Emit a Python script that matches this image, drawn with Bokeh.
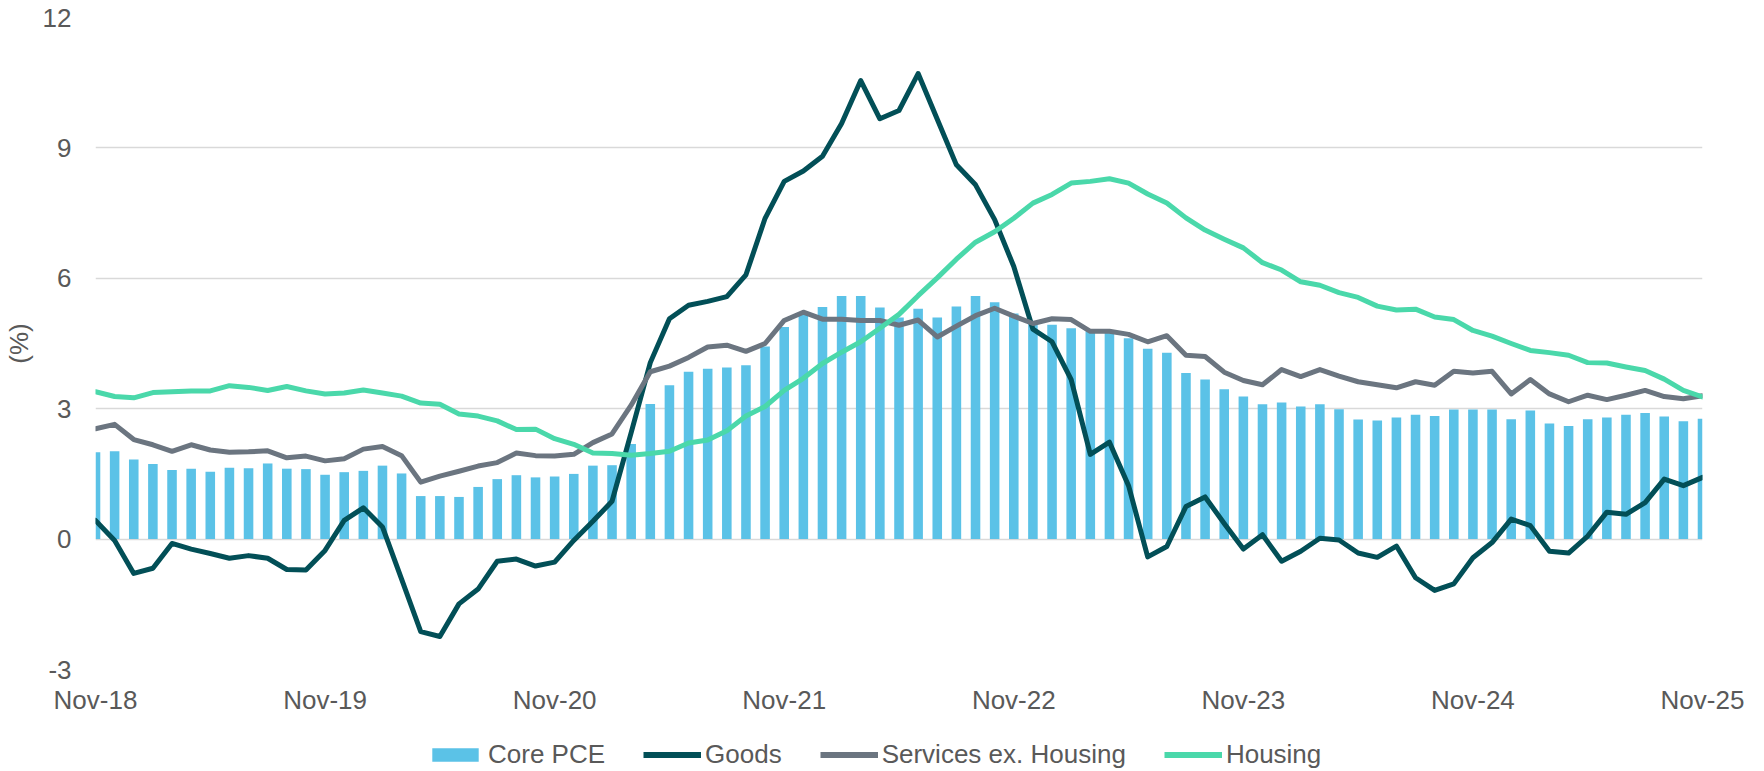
from bokeh.plotting import figure
from bokeh.models import (ColumnDataSource, Range1d, FixedTicker, Legend, LegendItem)
from bokeh.layouts import column
from bokeh.embed import file_html
from bokeh.resources import INLINE

# ---------------- data (monthly, Nov-18 .. Nov-25) ----------------
tick_labels = ["Nov-18", "Nov-19", "Nov-20", "Nov-21", "Nov-22", "Nov-23", "Nov-24", "Nov-25"]

core_pce = [2.00, 2.02, 1.83, 1.73, 1.59, 1.62, 1.55, 1.64, 1.63, 1.74, 1.62, 1.61,
            1.48, 1.54, 1.57, 1.69, 1.51, 0.99, 0.99, 0.97, 1.20, 1.38, 1.47, 1.42,
            1.44, 1.50, 1.69, 1.70, 2.19, 3.11, 3.54, 3.85, 3.92, 3.95, 4.00, 4.43,
            4.88, 5.16, 5.34, 5.59, 5.59, 5.33, 5.10, 5.30, 5.10, 5.35, 5.59, 5.45,
            5.19, 4.95, 4.93, 4.85, 4.78, 4.76, 4.62, 4.38, 4.29, 3.82, 3.67, 3.45,
            3.28, 3.10, 3.14, 3.05, 3.10, 2.99, 2.75, 2.73, 2.80, 2.86, 2.83, 2.98,
            2.98, 2.98, 2.76, 2.96, 2.66, 2.60, 2.76, 2.80, 2.86, 2.90, 2.82, 2.71,
            2.77]

goods = [0.43, -0.03, -0.79, -0.67, -0.10, -0.23, -0.33, -0.44, -0.38, -0.44, -0.70, -0.71,
         -0.26, 0.43, 0.72, 0.28, -0.92, -2.13, -2.24, -1.49, -1.15, -0.51, -0.46, -0.62,
         -0.53, -0.03, 0.41, 0.87, 2.45, 4.06, 5.07, 5.38, 5.47, 5.58, 6.08, 7.38,
         8.23, 8.47, 8.81, 9.56, 10.55, 9.67, 9.86, 10.71, 9.66, 8.61, 8.15, 7.35,
         6.27, 4.83, 4.54, 3.67, 1.95, 2.23, 1.23, -0.41, -0.17, 0.75, 0.97, 0.36,
         -0.23, 0.10, -0.51, -0.28, 0.02, -0.02, -0.32, -0.42, -0.16, -0.89, -1.18, -1.03,
         -0.43, -0.08, 0.46, 0.31, -0.28, -0.32, 0.07, 0.62, 0.57, 0.84, 1.38, 1.23,
         1.42]

services_ex_housing = [2.54, 2.64, 2.29, 2.17, 2.02, 2.17, 2.05, 2.00, 2.01, 2.03, 1.87, 1.91,
                       1.80, 1.85, 2.07, 2.13, 1.92, 1.31, 1.45, 1.56, 1.68, 1.76, 1.98, 1.92,
                       1.91, 1.95, 2.22, 2.42, 3.08, 3.85, 3.98, 4.18, 4.42, 4.46, 4.32, 4.50,
                       5.03, 5.22, 5.06, 5.06, 5.03, 5.03, 4.92, 5.04, 4.65, 4.90, 5.14, 5.31,
                       5.13, 4.96, 5.07, 5.05, 4.78, 4.78, 4.71, 4.54, 4.68, 4.23, 4.20, 3.84,
                       3.65, 3.55, 3.90, 3.74, 3.90, 3.75, 3.62, 3.55, 3.48, 3.62, 3.54, 3.86,
                       3.82, 3.86, 3.34, 3.67, 3.34, 3.16, 3.31, 3.21, 3.31, 3.42, 3.28, 3.23,
                       3.30]

housing = [3.39, 3.28, 3.25, 3.37, 3.39, 3.41, 3.41, 3.53, 3.49, 3.42, 3.51, 3.41,
           3.34, 3.36, 3.43, 3.36, 3.29, 3.13, 3.10, 2.88, 2.83, 2.72, 2.52, 2.53,
           2.31, 2.18, 1.98, 1.97, 1.93, 1.97, 2.02, 2.21, 2.28, 2.49, 2.83, 3.05,
           3.42, 3.70, 4.04, 4.30, 4.54, 4.85, 5.17, 5.60, 6.01, 6.44, 6.83, 7.07,
           7.38, 7.73, 7.93, 8.19, 8.23, 8.29, 8.19, 7.94, 7.73, 7.39, 7.11, 6.90,
           6.70, 6.36, 6.19, 5.92, 5.84, 5.67, 5.56, 5.36, 5.27, 5.29, 5.11, 5.05,
           4.80, 4.67, 4.50, 4.34, 4.29, 4.23, 4.06, 4.05, 3.96, 3.88, 3.68, 3.42,
           3.27]

y_ticks = [-3, 0, 3, 6, 9, 12]
series_names = ["Core PCE", "Goods", "Services ex. Housing", "Housing"]

# ---------------- styling ----------------
FONT = "Liberation Sans"
FS = "26px"
TXT = "#595959"
C_BAR = "#5BC2E7"
C_GOODS = "#024F57"
C_SERV = "#6B7580"
C_HOUS = "#4AD8AA"
LW = 5

n = len(core_pce)
months = list(range(n))
src = ColumnDataSource(dict(x=months, core=core_pce, goods=goods,
                            serv=services_ex_housing, hous=housing))

W = 1762
p = figure(width=W, height=719, output_backend="svg", toolbar_location=None,
           x_range=Range1d(0, n - 1), y_range=Range1d(-3, 12),
           min_border_left=95, min_border_right=60, min_border_top=17, min_border_bottom=50)
p.outline_line_color = None
p.background_fill_color = "white"
p.border_fill_color = "white"

p.vbar(x="x", top="core", bottom=0, width=0.5, source=src,
       fill_color=C_BAR, line_color=None)
p.line("x", "goods", source=src, line_color=C_GOODS, line_width=LW,
       line_join="round", line_cap="round")
p.line("x", "serv", source=src, line_color=C_SERV, line_width=LW,
       line_join="round", line_cap="round")
p.line("x", "hous", source=src, line_color=C_HOUS, line_width=LW,
       line_join="round", line_cap="round")

# axes
xa = p.xaxis[0]
xa.ticker = FixedTicker(ticks=[12 * k for k in range(len(tick_labels))])
xa.major_label_overrides = {12 * k: lab for k, lab in enumerate(tick_labels)}
ya = p.yaxis[0]
ya.ticker = FixedTicker(ticks=y_ticks)
ya.major_label_overrides = {t: str(t) for t in y_ticks}
ya.axis_label = "(%)"
for ax in (xa, ya):
    ax.axis_line_color = None
    ax.major_tick_line_color = None
    ax.minor_tick_line_color = None
    ax.major_tick_out = 0
    ax.major_tick_in = 0
    ax.major_label_text_font = FONT
    ax.major_label_text_font_size = FS
    ax.major_label_text_color = TXT
ya.major_label_standoff = 24
ya.axis_label_text_font = FONT
ya.axis_label_text_font_size = FS
ya.axis_label_text_font_style = "normal"
ya.axis_label_text_color = TXT
ya.axis_label_standoff = 6
xa.major_label_standoff = 15

p.xgrid.grid_line_color = None
p.ygrid.grid_line_color = "#D9D9D9"
p.ygrid.grid_line_width = 1.4

# ---------------- legend strip (separate figure below the chart) ----------------
lf = figure(width=W, height=51, output_backend="svg", toolbar_location=None,
            x_range=Range1d(0, 1), y_range=Range1d(0, 1),
            x_axis_location=None, y_axis_location=None,
            min_border_left=0, min_border_right=0, min_border_top=0, min_border_bottom=0)
lf.outline_line_color = None
lf.xgrid.grid_line_color = None
lf.ygrid.grid_line_color = None
lf.border_fill_color = "white"
lf.background_fill_color = "white"

# legend proxies: points placed outside the visible range
proxy = ColumnDataSource(dict(x=[-10, -9], y=[-10, -9]))
r_bar = lf.vbar(x="x", top="y", width=0.5, source=proxy, fill_color=C_BAR, line_color=None)
r_g = lf.line("x", "y", source=proxy, line_color=C_GOODS, line_width=LW + 1)
r_s = lf.line("x", "y", source=proxy, line_color=C_SERV, line_width=LW + 1)
r_h = lf.line("x", "y", source=proxy, line_color=C_HOUS, line_width=LW + 1)

legend = Legend(items=[LegendItem(label=nm, renderers=[r])
                       for nm, r in zip(series_names, [r_bar, r_g, r_s, r_h])],
                orientation="horizontal", location=(331, 0),
                glyph_width=58, glyph_height=17, label_standoff=4, spacing=38,
                padding=0, margin=0, border_line_color=None, background_fill_alpha=0,
                label_text_font=FONT, label_text_font_size=FS, label_text_color=TXT)
lf.add_layout(legend)

layout = column(p, lf, spacing=0)
open("out.html", "w").write(file_html(layout, INLINE))
